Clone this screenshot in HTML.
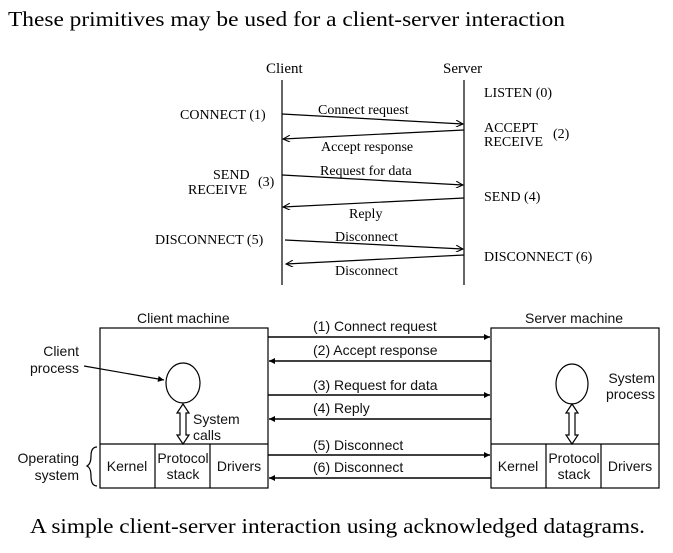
<!DOCTYPE html>
<html><head><meta charset="utf-8"><style>
html,body{margin:0;padding:0;background:#fff;}
svg{display:block;}
.s{font-family:"Liberation Serif",serif;fill:#000;}
.a{font-family:"Liberation Sans",sans-serif;fill:#111;font-size:14px;}
</style></head><body>
<svg width="673" height="553" viewBox="0 0 673 553" xmlns="http://www.w3.org/2000/svg">
<defs>
<marker id="ah" viewBox="0 0 10 10" refX="10" refY="5" markerWidth="9" markerHeight="7" orient="auto" markerUnits="userSpaceOnUse"><path d="M0,0 L10,5 L0,10" fill="none" stroke="#000" stroke-width="1.5"/></marker>
<marker id="fh" viewBox="0 0 10 10" refX="10" refY="5" markerWidth="8" markerHeight="6" orient="auto" markerUnits="userSpaceOnUse"><path d="M0,0 L10,5 L0,10 z" fill="#000"/></marker>
</defs>
<text class="s" x="8" y="26" font-size="21" textLength="557" lengthAdjust="spacingAndGlyphs">These primitives may be used for a client-server interaction</text>

<g class="s" font-size="14">
<text x="266" y="73" font-size="15">Client</text>
<text x="443" y="73" font-size="15">Server</text>
<text x="484" y="97">LISTEN (0)</text>
<text x="180" y="119">CONNECT (1)</text>
<text x="484" y="132">ACCEPT</text>
<text x="484" y="146">RECEIVE</text>
<text x="553" y="138">(2)</text>
<text x="213" y="179">SEND</text>
<text x="188" y="194">RECEIVE</text>
<text x="258" y="186">(3)</text>
<text x="484" y="201">SEND (4)</text>
<text x="155" y="244">DISCONNECT (5)</text>
<text x="484" y="261">DISCONNECT (6)</text>
<text x="318" y="114">Connect request</text>
<text x="321" y="151">Accept response</text>
<text x="320" y="175">Request for data</text>
<text x="349" y="218">Reply</text>
<text x="335" y="241">Disconnect</text>
<text x="335" y="275">Disconnect</text>
</g>
<g stroke="#000" stroke-width="1.2" fill="none">
<line x1="282" y1="80" x2="282" y2="285"/>
<line x1="464" y1="80" x2="464" y2="285"/>
<line x1="282" y1="114" x2="463" y2="124" marker-end="url(#ah)"/>
<line x1="464" y1="130" x2="283" y2="139" marker-end="url(#ah)"/>
<line x1="282" y1="175" x2="463" y2="185" marker-end="url(#ah)"/>
<line x1="464" y1="198" x2="283" y2="207" marker-end="url(#ah)"/>
<line x1="285" y1="240" x2="463" y2="249" marker-end="url(#ah)"/>
<line x1="464" y1="255" x2="286" y2="264" marker-end="url(#ah)"/>
</g>

<g stroke="#000" stroke-width="1.2" fill="none">
<rect x="100" y="328" width="168" height="160"/>
<line x1="100" y1="444" x2="268" y2="444"/>
<line x1="155" y1="444" x2="155" y2="488"/>
<line x1="210" y1="444" x2="210" y2="488"/>
<rect x="491" y="328" width="168" height="160"/>
<line x1="491" y1="444" x2="659" y2="444"/>
<line x1="546" y1="444" x2="546" y2="488"/>
<line x1="601" y1="444" x2="601" y2="488"/>
<ellipse cx="183" cy="383" rx="17" ry="20"/>
<ellipse cx="572" cy="384" rx="16" ry="20"/>
<line x1="84" y1="366" x2="164" y2="380" marker-end="url(#fh)"/>
<path d="M183,404 L189,413 L186,413 L186,435 L189,435 L183,444 L177,435 L180,435 L180,413 L177,413 Z"/>
<path d="M572,404 L578,413 L575,413 L575,435 L578,435 L572,444 L566,435 L569,435 L569,413 L566,413 Z"/>
<path d="M97,447 Q91,447 91,456 Q91,464 87,466 Q91,468 91,476 Q91,486 97,486"/>
</g>
<g stroke="#000" stroke-width="1.6">
<line x1="268" y1="337" x2="490" y2="337" marker-end="url(#fh)"/>
<line x1="491" y1="361" x2="269" y2="361" marker-end="url(#fh)"/>
<line x1="268" y1="395" x2="490" y2="395" marker-end="url(#fh)"/>
<line x1="491" y1="419" x2="269" y2="419" marker-end="url(#fh)"/>
<line x1="268" y1="455" x2="490" y2="455" marker-end="url(#fh)"/>
<line x1="491" y1="478" x2="269" y2="478" marker-end="url(#fh)"/>
</g>
<g class="a">
<text x="137" y="323">Client machine</text>
<text x="525" y="323">Server machine</text>
<text x="313" y="331">(1) Connect request</text>
<text x="313" y="355">(2) Accept response</text>
<text x="313" y="390">(3) Request for data</text>
<text x="313" y="413">(4) Reply</text>
<text x="313" y="450">(5) Disconnect</text>
<text x="313" y="472">(6) Disconnect</text>
<text x="79" y="356" text-anchor="end">Client</text>
<text x="79" y="373" text-anchor="end">process</text>
<text x="79" y="463" text-anchor="end">Operating</text>
<text x="79" y="480" text-anchor="end">system</text>
<text x="193" y="424">System</text>
<text x="193" y="440">calls</text>
<text x="655" y="383" text-anchor="end">System</text>
<text x="655" y="399" text-anchor="end">process</text>
<text x="127" y="471" text-anchor="middle">Kernel</text>
<text x="183" y="463" text-anchor="middle">Protocol</text>
<text x="183" y="479" text-anchor="middle">stack</text>
<text x="239" y="471" text-anchor="middle">Drivers</text>
<text x="518" y="471" text-anchor="middle">Kernel</text>
<text x="574" y="463" text-anchor="middle">Protocol</text>
<text x="574" y="479" text-anchor="middle">stack</text>
<text x="630" y="471" text-anchor="middle">Drivers</text>
</g>

<text class="s" x="30" y="533" font-size="21" textLength="615" lengthAdjust="spacingAndGlyphs">A simple client-server interaction using acknowledged datagrams.</text>
</svg>
</body></html>
